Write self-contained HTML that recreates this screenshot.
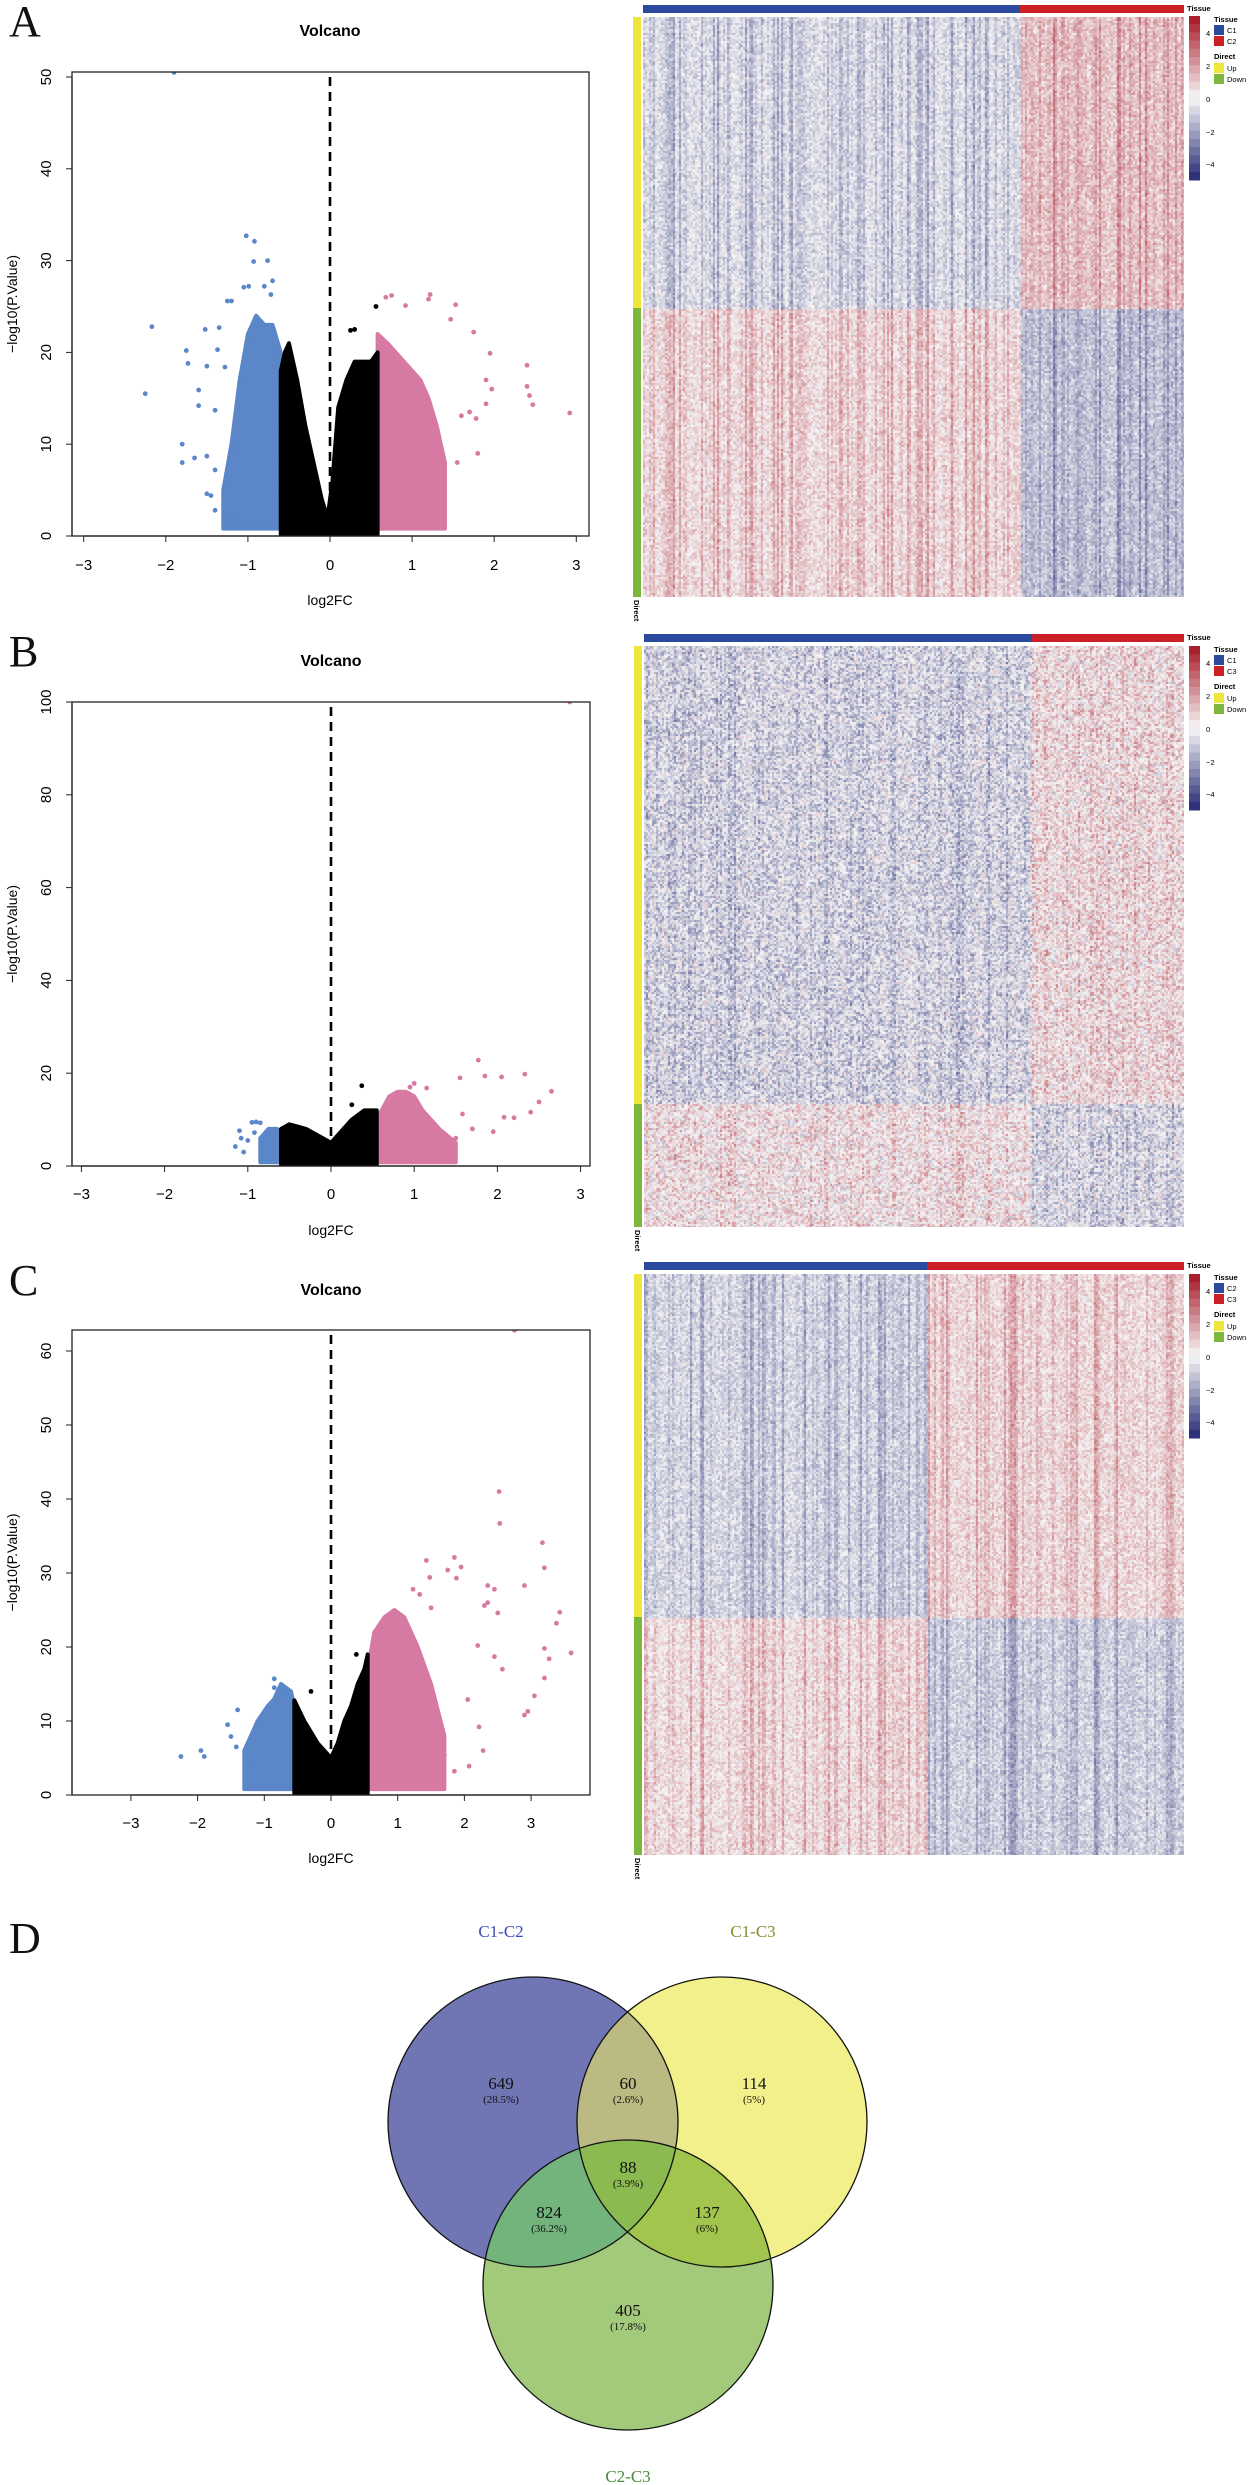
<!DOCTYPE html>
<html><head><meta charset="utf-8">
<style>
html,body{margin:0;padding:0;background:#fff;}
#root{position:relative;width:1249px;height:2485px;overflow:hidden;background:#fff;}
svg{position:absolute;left:0;top:0;}
canvas{position:absolute;}
</style></head>
<body>
<div id="root">
<svg id="main" width="1249" height="2485" xmlns="http://www.w3.org/2000/svg">
<g font-family="Liberation Serif, serif" font-size="44" fill="#111">
<text x="9" y="36">A</text>
<text x="9" y="666">B</text>
<text x="9" y="1295">C</text>
<text x="9" y="1953">D</text>
</g>
<g id="venn"></g>
</svg>
</div>
<script>
// ---------------- Volcano data ----------------
const aBlackEnvX=[-0.6,-0.55,-0.5,-0.4,-0.3,-0.2,-0.1,-0.03,0.03,0.1,0.2,0.3,0.4,0.5,0.58];
const aBlackEnvY=[18,20,21,17,12,8,4,2,6,14,17,19,19,19,20];
const aBlueEnvX=[-1.3,-1.2,-1.1,-1.0,-0.9,-0.8,-0.7,-0.6];
const aBlueEnvY=[5,10,17,22,24,23,23,20];
const aPinkEnvX=[0.58,0.7,0.8,0.9,1.0,1.1,1.2,1.3,1.4];
const aPinkEnvY=[22,21,20,19,18,17,15,12,8];
const aBlueX=[-2.25,-2.17,-1.75,-1.73,-1.8,-1.8,-1.65,-1.5,-1.6,-1.6,-1.5,-1.4,-1.35,-1.52,-1.37,-1.28,-1.02,-0.92,-0.93,-0.76,-0.7,-0.99,-1.05,-0.8,-0.72,-1.2,-1.25,-1.4,-1.4,-1.45,-1.5,-1.2,-1.9];
const aBlueY=[15.5,22.8,20.2,18.8,10,8,8.5,8.7,14.2,15.9,18.5,13.7,22.7,22.5,20.3,18.4,32.7,32.1,29.9,30,27.8,27.2,27.1,27.2,26.3,25.6,25.6,7.2,2.8,4.4,4.6,2.1,50.5];
const aPinkX=[0.68,0.75,1.22,1.2,0.92,1.53,1.47,1.75,1.95,2.4,2.4,2.43,2.47,2.92,1.97,1.9,1.9,1.78,1.8,1.55,1.7,1.6,1.2,1.1,1.0,1.2,0.8,0.72];
const aPinkY=[26,26.2,26.3,25.8,25.1,25.2,23.6,22.2,19.9,18.6,16.3,15.3,14.3,13.4,16,17,14.4,12.8,9,8,13.5,13.1,5,5.2,2.8,9.6,2.2,2.0];
const aBlackX=[0.56,0.3,0.25];
const aBlackY=[25,22.5,22.4];

const bBlackEnvX=[-0.6,-0.5,-0.3,-0.1,0,0.1,0.25,0.4,0.55];
const bBlackEnvY=[8,9,8,6,5,7,10,12,12];
const bBlueEnvX=[-0.85,-0.75,-0.65,-0.58];
const bBlueEnvY=[6,8,8,7];
const bPinkEnvX=[0.58,0.7,0.8,0.9,1.0,1.1,1.2,1.3,1.5];
const bPinkEnvY=[11,15,16,16,15,12,10,8,5];
const bBlueX=[-1.1,-1.15,-1.05,-0.95,-0.9,-0.85,-1.0,-0.92,-1.08];
const bBlueY=[7.6,4.2,3.0,9.4,9.5,9.3,5.5,7.2,6.0];
const bPinkX=[1.77,1.55,1.85,2.05,2.33,2.65,2.5,2.4,2.2,2.08,1.95,1.7,1.58,1.5,2.87,1.0,0.95,1.15];
const bPinkY=[22.8,19,19.4,19.2,19.8,16.1,13.8,11.6,10.4,10.5,7.4,8,11.2,6,100,17.8,17.0,16.8];
const bBlackX=[0.37,0.25];
const bBlackY=[17.3,13.2];

const cBlackEnvX=[-0.55,-0.4,-0.2,0,0.1,0.2,0.3,0.4,0.5,0.55];
const cBlackEnvY=[12.8,10,7,5,7,10,12,15,17,19];
const cBlueEnvX=[-1.3,-1.1,-0.95,-0.85,-0.75,-0.6,-0.55];
const cBlueEnvY=[6,10,12,13,15,14,12];
const cPinkEnvX=[0.55,0.65,0.8,0.95,1.1,1.3,1.5,1.7];
const cPinkEnvY=[17,22,24,25,24,20,15,8];
const cBlueX=[-2.25,-1.95,-1.9,-1.55,-1.5,-1.4,-1.42,-1.25,-0.85,-0.85];
const cBlueY=[5.2,6,5.2,9.5,7.9,11.5,6.5,4,15.7,14.5];
const cPinkX=[2.52,2.53,3.17,3.2,1.85,1.43,1.95,1.75,1.88,1.48,2.35,2.45,2.9,1.23,1.33,2.35,1.5,2.3,3.43,3.38,2.5,3.2,3.27,3.6,2.2,2.57,2.45,3.2,3.05,2.95,2.9,2.22,2.05,2.28,1.7,2.07,1.85,2.75];
const cPinkY=[41,36.7,34.1,30.7,32.1,31.7,30.8,30.4,29.3,29.4,28.3,27.8,28.3,27.8,27.1,26,25.3,25.6,24.7,23.2,24.6,19.8,18.4,19.2,20.2,17,18.7,15.8,13.4,11.3,10.8,9.2,12.9,6,5.4,3.9,3.2,62.8];
const cBlackX=[0.38,-0.3];
const cBlackY=[19,14];

const NS='http://www.w3.org/2000/svg';
const svg=document.getElementById('main');
function mk(tag,attrs,parent,txt){const e=document.createElementNS(NS,tag);for(const k in attrs)e.setAttribute(k,attrs[k]);if(txt!==undefined)e.textContent=txt;(parent||svg).appendChild(e);return e;}

function volcano(id,cfg,d){
  const g=mk('g',{});
  
  
  const px=x=>cfg.x0+x*cfg.ux, py=y=>cfg.y0-y*cfg.uy;
  const t=mk('text',{x:cfg.x0,y:cfg.title,'text-anchor':'middle','font-family':'Liberation Sans, sans-serif','font-weight':'bold','font-size':'16'},g,'Volcano');
  
  const cp=mk('clipPath',{id:id+'-clip'},g);mk('rect',{x:cfg.l,y:cfg.t,width:cfg.r-cfg.l,height:cfg.b-cfg.t},cp);
  const pg=mk('g',{'clip-path':'url(#'+id+'-clip)'},g);
  function poly(ex,ey,col,name,base){
    let pts=[];for(let i=0;i<ex.length;i++)pts.push(px(ex[i])+','+py(ey[i]));
    pts.push(px(ex[ex.length-1])+','+py(base));pts.push(px(ex[0])+','+py(base));
    const p=mk('polygon',{points:pts.join(' '),fill:col,stroke:col,'stroke-width':4,'stroke-linejoin':'round'},pg);
    
  }
  poly(d.blueEnvX,d.blueEnvY,'#5b87c9','down-cloud',0.8);
  poly(d.pinkEnvX,d.pinkEnvY,'#d67aa3','up-cloud',0.8);
  poly(d.blackEnvX,d.blackEnvY,'#000','ns-cloud',0.2);
  function dots(xs,ys,col,name){for(let i=0;i<xs.length;i++){const c=mk('circle',{cx:px(xs[i]),cy:py(ys[i]),r:2.4,fill:col},pg);}}
  dots(d.blueX,d.blueY,'#5b87c9','down-point');
  dots(d.pinkX,d.pinkY,'#d67aa3','up-point');
  dots(d.blackX,d.blackY,'#000','ns-point');
  const dl=mk('line',{x1:cfg.x0,x2:cfg.x0,y1:cfg.t+5,y2:py(1),stroke:'#000','stroke-width':2.6,'stroke-dasharray':'9,6'},g);
  
  const bx=mk('rect',{x:cfg.l,y:cfg.t,width:cfg.r-cfg.l,height:cfg.b-cfg.t,fill:'none',stroke:'#222','stroke-width':1.3},g);
  
  for(const v of cfg.xt){const x=px(v);mk('line',{x1:x,x2:x,y1:cfg.b,y2:cfg.b+6,stroke:'#222','stroke-width':1},g);
    const tl=mk('text',{x:x,y:cfg.tickY+6,'text-anchor':'middle','font-family':'Liberation Sans, sans-serif','font-size':'15'},g,v<0?'\u2212'+(-v):String(v));
    }
  mk('line',{x1:px(cfg.xt[0]),x2:px(cfg.xt[cfg.xt.length-1]),y1:cfg.b,y2:cfg.b,stroke:'#222','stroke-width':1.2},g);
  for(const v of cfg.yt){const y=py(v);mk('line',{x1:cfg.l-6,x2:cfg.l,y1:y,y2:y,stroke:'#222','stroke-width':1},g);
    const tl=mk('text',{x:0,y:0,transform:'translate(51,'+y+') rotate(-90)','text-anchor':'middle','font-family':'Liberation Sans, sans-serif','font-size':'15'},g,String(v));
    }
  mk('line',{x1:cfg.l,x2:cfg.l,y1:py(0),y2:py(cfg.yt[cfg.yt.length-1]),stroke:'#222','stroke-width':1.2},g);
  const xl=mk('text',{x:cfg.x0,y:cfg.xlab+5,'text-anchor':'middle','font-family':'Liberation Sans, sans-serif','font-size':'14'},g,'log2FC');
  
  const yl=mk('text',{x:0,y:0,transform:'translate(17,'+((cfg.t+cfg.b)/2)+') rotate(-90)','text-anchor':'middle','font-family':'Liberation Sans, sans-serif','font-size':'14'},g,'\u2212log10(P.Value)');
  
}
volcano('volcano-a',{l:72,r:589,t:72,b:536,x0:330,ux:82.1,y0:536,uy:9.18,title:36,tickY:564,xlab:600,xt:[-3,-2,-1,0,1,2,3],yt:[0,10,20,30,40,50]},
 {blackEnvX:aBlackEnvX,blackEnvY:aBlackEnvY,blueEnvX:aBlueEnvX,blueEnvY:aBlueEnvY,pinkEnvX:aPinkEnvX,pinkEnvY:aPinkEnvY,blueX:aBlueX,blueY:aBlueY,pinkX:aPinkX,pinkY:aPinkY,blackX:aBlackX,blackY:aBlackY});
volcano('volcano-b',{l:72,r:590,t:702,b:1166,x0:331,ux:83.2,y0:1166,uy:4.64,title:666,tickY:1193,xlab:1230,xt:[-3,-2,-1,0,1,2,3],yt:[0,20,40,60,80,100]},
 {blackEnvX:bBlackEnvX,blackEnvY:bBlackEnvY,blueEnvX:bBlueEnvX,blueEnvY:bBlueEnvY,pinkEnvX:bPinkEnvX,pinkEnvY:bPinkEnvY,blueX:bBlueX,blueY:bBlueY,pinkX:bPinkX,pinkY:bPinkY,blackX:bBlackX,blackY:bBlackY});
volcano('volcano-c',{l:72,r:590,t:1330,b:1795,x0:331,ux:66.7,y0:1795,uy:7.4,title:1295,tickY:1822,xlab:1858,xt:[-3,-2,-1,0,1,2,3],yt:[0,10,20,30,40,50,60]},
 {blackEnvX:cBlackEnvX,blackEnvY:cBlackEnvY,blueEnvX:cBlueEnvX,blueEnvY:cBlueEnvY,pinkEnvX:cPinkEnvX,pinkEnvY:cPinkEnvY,blueX:cBlueX,blueY:cBlueY,pinkX:cPinkX,pinkY:cPinkY,blackX:cBlackX,blackY:cBlackY});

// ---------------- Heatmap data (block means: [up-g1, up-g2, down-g1, down-g2]) ----------------
const heatABlocks=[-0.4,0.9,0.4,-1.0];
const heatBBlocks=[-0.6,0.3,0.2,-0.5];
const heatCBlocks=[-0.6,0.5,0.4,-0.7];
const heatANoise=[0.55,0.8];  // [cell noise, column stripe]
const heatBNoise=[0.95,0.5];
const heatCNoise=[0.55,0.7];
const heatGroups=[['C1','C2'],['C1','C3'],['C2','C3']];

function hash(a,b,s){let h=(a*374761393+b*668265263+s*1442695041)|0;h=(h^(h>>>13))*1274126177|0;h=h^(h>>>16);return ((h>>>0)%10000)/10000;}
function rampColor(v){let t=Math.max(-1,Math.min(1,v/4.5));
  let w=[247,247,247];let e=t>0?[165,20,35]:[35,40,115];let a=Math.abs(t);
  return 'rgb('+Math.round(w[0]+(e[0]-w[0])*a)+','+Math.round(w[1]+(e[1]-w[1])*a)+','+Math.round(w[2]+(e[2]-w[2])*a)+')';}
const root=document.getElementById('root');
function heatmap(name,L,R,T,B,splitX,splitY,blocks,noise,seed,labels,legOff){
  const cv=document.createElement('canvas');cv.width=R-L;cv.height=B-T;cv.style.left=L+'px';cv.style.top=T+'px';
  
  
  root.appendChild(cv);const ctx=cv.getContext('2d');
  const cw=2,ch=2;
  for(let cx=0;cx<cv.width;cx+=cw){const col=cx/cw;const g2=(L+cx)>=splitX;
    let st=hash(col,0,seed);st=(st*st*st)*2*noise[1];
    for(let cy=0;cy<cv.height;cy+=ch){const row=cy/ch;const down=(T+cy)>=splitY;
      const m=blocks[(down?2:0)+(g2?1:0)];
      const n=(hash(col,row,seed+3)+hash(col+99,row+17,seed+5)-1)*2*noise[0];
      const sgn=(m>=0)?1:-1;
      ctx.fillStyle=rampColor(m+n+st*sgn);ctx.fillRect(cx,cy,cw,ch);}}
  const g=mk('g',{});
  const t1=mk('rect',{x:L,y:T-12,width:splitX-L,height:8,fill:'#2b4a9e'},g);
  const t2=mk('rect',{x:splitX,y:T-12,width:R-splitX,height:8,fill:'#cc2027'},g);
  mk('text',{x:R+3,y:T-6,'font-family':'Liberation Sans, sans-serif','font-weight':'bold','font-size':'7.5'},g,'Tissue');
  const d1=mk('rect',{x:L-10,y:T,width:8,height:splitY-T,fill:'#eee63a'},g);
  const d2=mk('rect',{x:L-10,y:splitY,width:8,height:B-splitY,fill:'#7cb63a'},g);
  mk('text',{x:0,y:0,transform:'translate('+(L-9)+','+(B+3)+') rotate(90)','font-family':'Liberation Sans, sans-serif','font-weight':'bold','font-size':'7.5'},g,'Direct');
  const ky=16+legOff, kh=164;
  for(let i=0;i<20;i++){const v=4.5-(i+0.5)*9/20;mk('rect',{x:1189,y:ky+i*kh/20,width:11,height:kh/20+0.5,fill:rampColor(v)},g);}
  const ticks=[4,2,0,-2,-4];const tpos=[17,50,83,116,148];
  for(let i=0;i<5;i++)mk('text',{x:1206,y:ky+tpos[i]+3,'font-family':'Liberation Sans, sans-serif','font-size':'7.5'},g,ticks[i]<0?'\u2212'+(-ticks[i]):String(ticks[i]));
  const lx=1214;
  mk('text',{x:lx,y:ky+6,'font-family':'Liberation Sans, sans-serif','font-weight':'bold','font-size':'7.5'},g,'Tissue');
  mk('rect',{x:lx,y:ky+9,width:10,height:10,fill:'#2b4a9e'},g);mk('text',{x:lx+13,y:ky+17,'font-family':'Liberation Sans, sans-serif','font-size':'7.5'},g,labels[0]);
  mk('rect',{x:lx,y:ky+20,width:10,height:10,fill:'#cc2027'},g);mk('text',{x:lx+13,y:ky+28,'font-family':'Liberation Sans, sans-serif','font-size':'7.5'},g,labels[1]);
  mk('text',{x:lx,y:ky+43,'font-family':'Liberation Sans, sans-serif','font-weight':'bold','font-size':'7.5'},g,'Direct');
  mk('rect',{x:lx,y:ky+47,width:10,height:10,fill:'#eee63a'},g);mk('text',{x:lx+13,y:ky+55,'font-family':'Liberation Sans, sans-serif','font-size':'7.5'},g,'Up');
  mk('rect',{x:lx,y:ky+58,width:10,height:10,fill:'#7cb63a'},g);mk('text',{x:lx+13,y:ky+66,'font-family':'Liberation Sans, sans-serif','font-size':'7.5'},g,'Down');
}
heatmap('heatmap-a',643,1184,17,597,1020,308,heatABlocks,heatANoise,11,heatGroups[0],0);
heatmap('heatmap-b',644,1184,646,1227,1032,1104,heatBBlocks,heatBNoise,23,heatGroups[1],630);
heatmap('heatmap-c',644,1184,1274,1855,927,1617,heatCBlocks,heatCNoise,37,heatGroups[2],1258);

// ---------------- Venn ----------------
const vennSets=['C1-C2','C1-C3','C2-C3'];
const vennCounts=[649,60,114,88,824,137,405];
const vennPct=['(28.5%)','(2.6%)','(5%)','(3.9%)','(36.2%)','(6%)','(17.8%)'];
(function(){
  const V=document.getElementById('venn');
  const C=[[533,2122],[722,2122],[628,2285]];const r=145;
  const fills=['#7076b4','#f2f08a','#a3c97a'];
  const defs=mk('defs',{},V);
  for(let i=0;i<3;i++){const cp=mk('clipPath',{id:'vc'+i},defs);mk('circle',{cx:C[i][0],cy:C[i][1],r:r},cp);}
  for(let i=0;i<3;i++){const c=mk('circle',{cx:C[i][0],cy:C[i][1],r:r,fill:fills[i]},V);}
  const g01=mk('g',{'clip-path':'url(#vc0)'},V);mk('circle',{cx:C[1][0],cy:C[1][1],r:r,fill:'#bbba82'},g01);
  const g02=mk('g',{'clip-path':'url(#vc0)'},V);mk('circle',{cx:C[2][0],cy:C[2][1],r:r,fill:'#73b47d'},g02);
  const g12=mk('g',{'clip-path':'url(#vc1)'},V);mk('circle',{cx:C[2][0],cy:C[2][1],r:r,fill:'#a2c54e'},g12);
  const g012a=mk('g',{'clip-path':'url(#vc0)'},V);const g012=mk('g',{'clip-path':'url(#vc1)'},g012a);mk('circle',{cx:C[2][0],cy:C[2][1],r:r,fill:'#8aba50'},g012);
  for(let i=0;i<3;i++)mk('circle',{cx:C[i][0],cy:C[i][1],r:r,fill:'none',stroke:'#111','stroke-width':1.3},V);
  const pos=[[501,2083],[628,2083],[754,2083],[628,2167],[549,2212],[707,2212],[628,2310]];
  for(let i=0;i<7;i++){
    const n=mk('text',{x:pos[i][0],y:pos[i][1]+6,'text-anchor':'middle','font-family':'Liberation Serif, serif','font-size':'17',fill:'#111'},V,String(vennCounts[i]));
    
    const p=mk('text',{x:pos[i][0],y:pos[i][1]+20,'text-anchor':'middle','font-family':'Liberation Serif, serif','font-size':'11',fill:'#111'},V,vennPct[i]);
    
  }
  const lab=[[501,1937,'#3a4bb0'],[753,1937,'#8a8a30'],[628,2482,'#4a8a3a']];
  for(let i=0;i<3;i++){const t=mk('text',{x:lab[i][0],y:lab[i][1],'text-anchor':'middle','font-family':'Liberation Serif, serif','font-size':'17',fill:lab[i][2]},V,vennSets[i]);
    }
})();
</script>
</body></html>
